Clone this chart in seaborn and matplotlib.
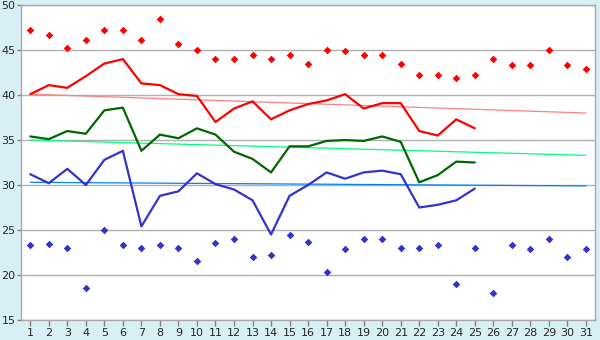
import numpy as np
import pandas as pd
import seaborn as sns
import matplotlib.pyplot as plt

# days of the month
days = list(range(1, 32))

# daily extremes (diamonds), all 31 days
max_points = [47.2, 46.7, 45.2, 46.1, 47.2, 47.2, 46.1, 48.5, 45.7, 45.0,
              44.0, 44.0, 44.4, 44.0, 44.4, 43.5, 45.0, 44.9, 44.5, 44.5,
              43.5, 42.2, 42.2, 41.9, 42.2, 44.0, 43.3, 43.3, 45.0, 43.3, 42.9]
min_points = [23.3, 23.4, 23.0, 18.6, 25.0, 23.3, 23.0, 23.3, 23.0, 21.6,
              23.6, 24.0, 22.0, 22.2, 24.4, 23.7, 20.3, 22.9, 24.0, 24.0,
              23.0, 23.0, 23.3, 19.0, 23.0, 18.0, 23.3, 22.9, 24.0, 22.0, 22.9]

# observed series, days 1-25
high_line = [40.1, 41.1, 40.8, 42.1, 43.5, 44.0, 41.3, 41.1, 40.1, 39.9,
             37.0, 38.5, 39.3, 37.3, 38.3, 39.0, 39.4, 40.1, 38.5, 39.1,
             39.1, 36.0, 35.5, 37.3, 36.3]
mean_line = [35.4, 35.1, 36.0, 35.7, 38.3, 38.6, 33.8, 35.6, 35.2, 36.3,
             35.6, 33.7, 32.9, 31.4, 34.3, 34.3, 34.9, 35.0, 34.9, 35.4,
             34.8, 30.3, 31.1, 32.6, 32.5]
low_line = [31.2, 30.2, 31.8, 30.0, 32.8, 33.8, 25.4, 28.8, 29.3, 31.3,
            30.1, 29.5, 28.3, 24.5, 28.8, 30.0, 31.4, 30.7, 31.4, 31.6,
            31.2, 27.5, 27.8, 28.3, 29.6]

# normals, given at first and last day
normal_days = [1, 31]
normal_high = [40.1, 38.0]
normal_mean = [35.0, 33.3]
normal_low = [30.3, 29.9]

obs = pd.DataFrame({'day': days[:25], 'high': high_line,
                    'mean': mean_line, 'low': low_line})
ext = pd.DataFrame({'day': days, 'max': max_points, 'min': min_points})
norm = pd.DataFrame({'day': normal_days, 'high': normal_high,
                     'mean': normal_mean, 'low': normal_low})

sns.set_style('white')
plt.rcParams['font.family'] = ['DejaVu Sans']

fig = plt.figure(figsize=(6, 3.4), dpi=100, facecolor='#d9eff6')
ax = fig.add_axes([0.035, 0.059, 0.957, 0.926])
ax.set_facecolor('white')

# normals
sns.lineplot(data=norm, x='day', y='high', color='#ff8080', lw=0.9, ax=ax)
sns.lineplot(data=norm, x='day', y='mean', color='#00ff80', lw=0.9, ax=ax)
sns.lineplot(data=norm, x='day', y='low', color='#0080ff', lw=0.9, ax=ax)

# observed
sns.lineplot(data=obs, x='day', y='high', color='#ff0000', lw=1.6, ax=ax)
sns.lineplot(data=obs, x='day', y='mean', color='#006600', lw=1.6, ax=ax)
sns.lineplot(data=obs, x='day', y='low', color='#3333cc', lw=1.6, ax=ax)

# extremes
sns.scatterplot(data=ext, x='day', y='max', color='#ff0000', marker='D',
                s=15, linewidth=0, ax=ax)
sns.scatterplot(data=ext, x='day', y='min', color='#3333cc', marker='D',
                s=15, linewidth=0, ax=ax)

ax.set_xlim(0.5, 31.5)
ax.set_ylim(15, 50)
ax.set_xticks(days)
ax.set_yticks(range(15, 51, 5))
ax.set_xlabel('')
ax.set_ylabel('')
ax.yaxis.grid(True, color='#b0b0b0', lw=1)
ax.set_axisbelow(True)
for sp in ax.spines.values():
    sp.set_color('#a8a8a8')
    sp.set_linewidth(1)
ax.tick_params(axis='x', labelsize=8, length=4, width=1,
               color='#808080', pad=2, bottom=True)
ax.tick_params(axis='y', labelsize=8, length=3, width=1,
               color='#808080', pad=1, left=True)

fig.savefig('out.png', dpi=100, facecolor=fig.get_facecolor())
